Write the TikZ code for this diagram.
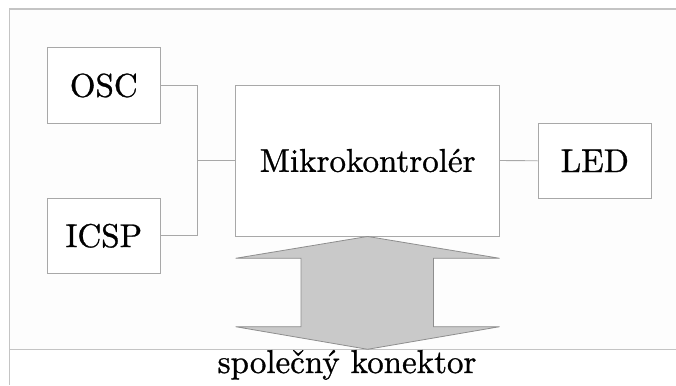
\documentclass[tikz,border=0pt]{standalone}
\usepackage{fontspec}
% label face: Latin Modern set a little heavier
\newfontface\labelface{lmroman10-regular.otf}[FakeBold=0.9]
\begin{document}
\begin{tikzpicture}[x=1pt,y=-1pt,
  every node/.style={inner sep=0pt},
  labeltext/.style={font=\labelface\fontsize{33}{40}\selectfont},
  blockbox/.style={draw=boxgray,line width=0.9pt,fill=white,labeltext},
  wire/.style={draw=boxgray,line width=0.9pt},
  framel/.style={draw=framegray,line width=1.6pt},
  busarrow/.style={draw=arrowedge,line width=0.8pt,fill=arrowfill,line join=miter}]
\definecolor{boxgray}{HTML}{A8A8A8}
\definecolor{framegray}{HTML}{C4C4C4}
\definecolor{arrowfill}{HTML}{C9C9C9}
\definecolor{arrowedge}{HTML}{8E8E8E}
\useasboundingbox (0,0) rectangle (676,385);
% frame of the board
\fill[fill={rgb,255:red,253;green,253;blue,253}] (9.5,9.3) rectangle (676,349.3);
\draw[framel] (676,9.3) -- (9.5,9.3) -- (9.5,385);
\draw[framel] (9.5,349.3) -- (676,349.3);
% blocks
\node[blockbox,minimum width=113pt,minimum height=75.6pt] (osc) at (103.8,85.5) {OSC};
\node[blockbox,minimum width=113pt,minimum height=75pt] (icsp) at (103.8,235.8) {ICSP};
\node[blockbox,minimum width=264pt,minimum height=151pt] (mcu) at (367.6,160.5) {Mikrokontrolér};
\node[blockbox,minimum width=113.5pt,minimum height=75pt] (led) at (594.8,160.8) {LED};
% wiring
\coordinate (jn) at (197.8,160.5);
\draw[wire] (osc.east) -| (jn) |- (icsp.east);
\draw[wire] (jn) -- (mcu.west);
\draw[wire] (mcu.east) -- (led.west);
% bus double arrow to the common connector
\coordinate (bt) at (mcu.south);
\coordinate (bb) at (367.6,349.3);
\draw[busarrow] (bt) -- (235.6,258.3) -- (301,258.3) -- (301,326.7) -- (235.6,326.7)
  -- (bb) -- (499.6,326.7) -- (433.4,326.7) -- (433.4,258.3) -- (499.6,258.3) -- cycle;
\node[anchor=base,labeltext] (conn) at (347,373) {společný konektor};
\end{tikzpicture}
\end{document}
